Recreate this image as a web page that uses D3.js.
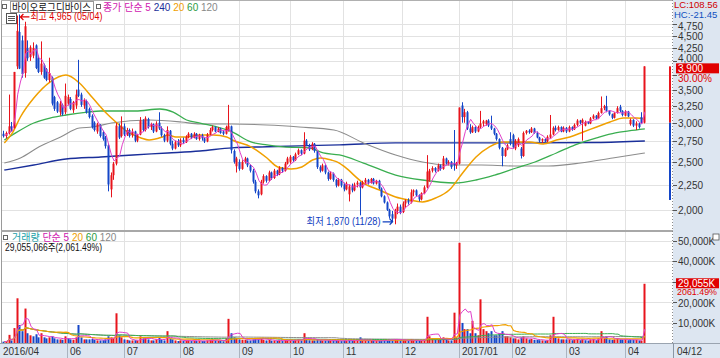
<!DOCTYPE html>
<html><head><meta charset="utf-8">
<script src="https://cdn.jsdelivr.net/npm/d3@7"></script>
<style>
body{margin:0;background:#fff;}
svg{display:block;}
text{font-family:"Liberation Sans","Noto Sans CJK KR",sans-serif;}
</style></head><body>
<svg id="c" width="720" height="358"></svg>
<script>
// ---------------- data ----------------
const stockName = "바이오로그디바이스";
const monthLabels = ["2016/04","05","06","07","08","09","10","11","12","2017/01","02","03","04"];
const monthDays   = [4,20,21,21,22,19,20,22,21,20,20,22,8];
const hiddenMonthLabels = ["05"];
const lastDateLabel = "04/12";
const priceTicks = [2000,2250,2500,2750,3000,3250,3500,3750,4000,4250,4500,4750];
const hiddenPriceLabels = [3750];
const volumeTicks = [10000,20000,30000,40000,50000]; // K shares
const hiddenVolumeLabels = [30000];
const rangeBar = [2094,3000,3900];

// daily [open, high, low, close]
const ohlc = [
// 2016/04
[2850,2890,2800,2820],[2820,2880,2790,2860],[2860,3420,2840,2950],[2950,3010,2880,2920],
// 05
[2930,3800,2920,3800],[3900,4940,3850,4600],[4575,4965,3850,3860],[4400,4500,3700,3760],[3780,4800,3700,4700],
[4250,4400,4000,4050],[4070,4300,4000,4260],[4100,4360,4050,4250],[4300,4320,3850,3870],[4050,4100,3780,3800],
[3800,4380,3750,3950],[3920,3950,3680,3700],[3850,3870,3640,3660],[3660,4060,3620,3780],[3700,3720,3250,3280],
[3380,3400,3170,3200],[3300,3320,3140,3160],[3150,3320,3100,3280],[3260,3280,3100,3120],[3150,3600,3120,3400],
// 06
[3280,3420,3250,3380],[3350,3380,3180,3200],[3180,3320,3140,3300],[3250,3500,3200,3420],[3500,4020,3380,3400],
[3420,3450,3230,3260],[3250,3360,3200,3330],[3320,3340,3130,3150],[3200,3220,3060,3080],[3100,3120,2920,2940],
[3000,3020,2880,2900],[2880,3000,2850,2980],[2960,2980,2800,2820],[2870,2890,2760,2780],[2800,2820,2660,2690],
[2700,2720,2180,2250],[2200,2380,2120,2350],[2350,2500,2300,2480],[2480,3000,2460,2960],[2950,2990,2780,2800],
[2820,3090,2800,2950],
// 07
[2950,2990,2820,2840],[2840,2930,2820,2900],[2900,2920,2800,2820],[2830,2920,2800,2880],[2880,2890,2740,2760],
[2760,2850,2740,2830],[2840,3080,2830,3030],[3030,3050,2880,2900],[2900,3090,2880,3060],[3050,3070,2920,2940],
[2940,3000,2900,2980],[2980,2990,2860,2880],[2880,3020,2870,2990],[3000,3150,2900,2920],[2920,2950,2810,2830],
[2830,2850,2740,2760],[2760,2950,2740,2900],[2890,2900,2700,2720],[2720,2760,2640,2660],[2660,2760,2650,2740],
[2740,2780,2680,2700],
// 08
[2700,2790,2680,2770],[2770,2800,2720,2740],[2740,2830,2730,2810],[2810,2870,2790,2850],[2850,2860,2780,2800],
[2800,2870,2790,2850],[2850,2860,2770,2780],[2780,2850,2760,2830],[2830,2850,2760,2790],[2790,2800,2730,2750],
[2750,2860,2740,2840],[2840,2930,2830,2900],[2900,2960,2880,2940],[2940,2950,2870,2880],[2880,2940,2870,2920],
[2920,2930,2850,2860],[2880,2900,2830,2850],[2850,2960,2840,2940],[2900,3260,2880,2960],[2950,2960,2600,2640],
[2630,2650,2480,2500],[2450,2560,2380,2540],
// 09
[2500,2530,2400,2420],[2420,2520,2410,2500],[2500,2560,2480,2540],[2540,2550,2440,2460],[2460,2470,2380,2400],
[2400,2420,2260,2280],[2280,2300,2160,2180],[2180,2200,2110,2140],[2150,2300,2140,2280],[2280,2360,2260,2340],
[2340,2350,2270,2290],[2290,2400,2280,2380],[2380,2390,2300,2320],[2320,2420,2310,2400],[2400,2410,2340,2360],
[2360,2450,2350,2430],[2430,2440,2380,2400],[2400,2500,2390,2480],[2480,2560,2470,2540],
// 10
[2500,2580,2480,2560],[2560,2570,2500,2520],[2520,2610,2510,2590],[2590,2660,2580,2640],[2640,2650,2580,2600],
[2600,2870,2590,2760],[2760,2780,2690,2700],[2700,2720,2630,2650],[2650,2740,2640,2720],[2720,2730,2610,2630],
[2630,2640,2420,2440],[2440,2460,2380,2400],[2400,2480,2390,2460],[2460,2470,2360,2380],[2380,2390,2290,2310],
[2310,2390,2300,2370],[2370,2380,2280,2300],[2300,2310,2220,2240],[2240,2320,2230,2300],[2300,2310,2220,2240],
// 11
[2250,2270,2180,2200],[2200,2280,2190,2260],[2150,2250,2080,2230],[2230,2260,2170,2190],[2190,2270,2180,2250],
[2250,2290,2220,2270],[2270,2280,1950,2220],[2220,2290,2210,2270],[2270,2320,2250,2300],[2300,2310,2250,2270],
[2270,2320,2260,2310],[2310,2320,2250,2260],[2260,2300,2250,2290],[2290,2300,2200,2210],[2210,2220,2120,2130],
[2130,2140,2060,2070],[2070,2080,1990,2000],[2000,2010,1920,1940],[1960,1990,1890,1920],[1920,2010,1870,1990],
[1990,2060,1960,2030],[2030,2050,1960,1980],
// 12
[1980,2080,1970,2060],[2060,2100,2020,2090],[2090,2110,2050,2070],[2070,2200,2060,2170],[2170,2200,2130,2190],
[2190,2200,2130,2140],[2140,2150,2080,2100],[2100,2170,2090,2160],[2160,2240,2150,2220],[2220,2580,2210,2390],
[2300,2420,2280,2400],[2400,2450,2380,2430],[2430,2440,2380,2400],[2400,2480,2390,2460],[2460,2470,2400,2420],
[2420,2570,2410,2540],[2540,2550,2470,2480],[2480,2520,2460,2500],[2500,2510,2420,2440],[2480,2900,2400,2460],
[2460,2500,2420,2480],
// 2017/01
[2480,3220,2470,3220],[3250,3300,3000,3080],[3080,3200,3000,3150],[3150,3170,2900,2920],[2920,2980,2850,2870],
[2870,2960,2860,2940],[2940,2950,2860,2880],[2880,2960,2870,2940],[2940,3170,2920,2990],[2990,3040,2950,3020],
[2980,3040,2960,3030],[3030,3050,2940,2960],[2960,3100,2900,2920],[2920,2930,2830,2850],[2850,2860,2760,2780],
[2780,2790,2650,2670],[2670,2680,2450,2570],[2570,2670,2560,2650],[2650,2720,2640,2700],[2780,2870,2700,2720],
// 02
[2830,2850,2660,2680],[2660,2780,2640,2760],[2700,2800,2680,2780],[2660,2680,2540,2570],[2570,2880,2560,2860],
[2860,2900,2840,2890],[2890,2910,2850,2870],[2870,2940,2860,2920],[2920,2930,2850,2860],[2860,2880,2790,2800],
[2800,2810,2740,2760],[2760,2790,2730,2780],[2780,2790,2740,2750],[2750,2830,2740,2810],[2800,3110,2790,2840],
[2840,2950,2830,2930],[2930,2960,2880,2900],[2900,2960,2890,2940],[2940,2950,2870,2880],[2880,2950,2870,2930],
// 03
[2930,2940,2860,2880],[2880,2960,2870,2940],[2940,2950,2890,2910],[2910,2990,2900,2970],[2970,3050,2950,3030],
[3030,3040,2980,3000],[3000,3060,2760,3040],[2960,3030,2950,3010],[3010,3020,2980,2990],[2990,3080,2980,3060],
[3060,3120,3050,3100],[3100,3110,3050,3060],[3060,3160,3050,3140],[3140,3390,3130,3210],[3210,3260,3180,3240],
[3240,3400,3150,3170],[3170,3180,3100,3120],[3120,3130,3050,3070],[3070,3150,3060,3140],[3140,3240,3130,3210],
[3230,3260,3150,3170],[3170,3180,3090,3110],
// 04
[3100,3180,3090,3160],[3160,3170,3080,3090],[2980,3060,2960,3040],[3040,3050,2940,2960],[2960,3020,2900,2990],
[2990,3000,2920,2940],[3080,3150,2980,3000],[3000,3900,2990,3900]
];

// daily volume, thousand shares
const volume = [
900,1100,4200,1500,
7500,22000,9000,6000,17000,5000,4000,3500,4500,3000,5000,3000,2500,3000,3500,2500,2000,2000,1800,3500,
2500,2000,1800,3000,9000,3000,2000,2000,2000,2200,1800,1500,1500,1600,2000,3500,3000,2500,14700,4000,3000,
2000,1800,1500,1500,1600,1400,3500,2500,3000,2000,1500,1500,2000,3000,1800,1500,6000,2500,2000,1500,1200,
1500,1200,1500,1600,1200,1400,1200,1300,1200,1200,1500,1800,2000,1500,1300,1200,1100,2500,12000,5000,3000,2500,
2000,1800,1800,1500,1500,2000,2500,2200,2500,1800,1500,1800,1400,1500,1300,1500,1200,1600,1800,
1600,1300,1700,2000,1500,5000,2000,1600,1500,1500,2200,1600,1400,1400,1500,1300,1300,1500,1300,1200,
1500,1300,2000,1400,1400,1300,3000,1500,1400,1200,1300,1200,1200,1400,1600,1700,1800,2000,1800,2200,1800,1500,
1600,1500,1200,2200,1500,1300,1300,1400,1800,13000,3500,2500,2000,2000,1800,3000,2000,1500,1500,15000,3000,
49000,10000,7000,7000,5000,11000,5000,4000,21500,7000,6000,5000,6000,4000,4000,5000,6000,3500,3500,3000,
2500,2500,2000,3000,3500,2500,2000,2200,1800,1800,1600,1500,1400,1600,4000,13000,3000,2500,2000,2000,
2000,2000,1600,1800,2200,1600,2200,1600,1400,2000,2200,1600,2500,6000,2500,3500,2000,1800,2000,2500,2000,1800,
2000,1600,1800,1800,1800,1500,1409.42,29055.066
];

// moving averages: [day index, price]
const ma20 = [[0,2731],[3,2861],[6,3081],[11,3365],[17,3625],[23,3745],[28,3610],[33,3365],[38,3138],[42,2996],[46,2874],[51,2795],[54,2768],[59,2808],[61,2834],[64,2808],[68,2808],[73,2834],[78,2834],[83,2808],[85,2768],[92,2682],[98,2546],[102,2442],[107,2419],[111,2442],[115,2522],[118,2546],[122,2522],[125,2487],[127,2442],[134,2266],[140,2193],[146,2123],[151,2094],[156,2075],[161,2114],[166,2193],[171,2374],[176,2558],[181,2682],[186,2743],[191,2743],[196,2743],[201,2718],[206,2768],[211,2808],[216,2874],[221,2941],[226,3010],[231,3066],[236,3066],[239,3050]];
const ma60 = [[0,2768],[3,2834],[11,2996],[17,3066],[23,3110],[31,3153],[36,3168],[49,3168],[58,3198],[63,3153],[68,3038],[73,2996],[85,2874],[92,2743],[98,2706],[104,2682],[114,2669],[119,2606],[125,2582],[134,2487],[146,2352],[156,2298],[168,2266],[176,2298],[183,2352],[191,2430],[198,2499],[206,2606],[213,2706],[221,2795],[228,2861],[233,2887],[239,2914]];
const ma120 = [[0,2487],[6,2546],[13,2682],[21,2808],[28,2927],[33,2941],[40,2996],[54,3038],[66,3010],[73,2982],[85,2982],[98,2968],[110,2941],[123,2900],[134,2731],[146,2582],[156,2499],[165,2464],[178,2464],[190,2453],[203,2453],[215,2487],[227,2546],[239,2606]];
const ma240 = [[0,2407],[11,2464],[23,2534],[36,2558],[48,2582],[61,2606],[73,2630],[85,2669],[98,2682],[110,2694],[125,2706],[146,2731],[171,2731],[196,2731],[221,2737],[239,2756]];

// ---------------- layout ----------------
const RED = "#e8141c", BLUE = "#1446c8";
const AXBG = "#dde6f1";
const svg = d3.select("#c");
const plotL = 2, plotR = 672;
const x = d3.scaleLinear().domain([-0.5, 249.5]).range([3, 673]);
const y = d3.scaleLog().domain([1821, 5286]).range([230, 1]);
const yv = d3.scaleLinear().domain([0, 54250]).range([343.5, 232]);

const monthStart = [];
monthDays.reduce((a, d) => { monthStart.push(a); return a + d; }, 0);

// backgrounds
svg.append("rect").attr("x",0).attr("y",0).attr("width",720).attr("height",358).attr("fill","#fff");
svg.append("rect").attr("x",673).attr("y",0).attr("width",47).attr("height",343).attr("fill",AXBG);
svg.append("rect").attr("x",0).attr("y",343).attr("width",720).attr("height",15).attr("fill",AXBG);

const defs = svg.append("defs");
defs.append("clipPath").attr("id","cp").append("rect").attr("x",plotL).attr("y",1).attr("width",plotR-plotL).attr("height",229);
defs.append("clipPath").attr("id","cv").append("rect").attr("x",plotL).attr("y",232).attr("width",plotR-plotL).attr("height",111);

// grid
const grid = svg.append("g").attr("stroke","#e2e2e2").attr("stroke-width",1).attr("shape-rendering","crispEdges");
priceTicks.forEach(t => grid.append("line").attr("x1",plotL).attr("x2",plotR).attr("y1",Math.round(y(t))+0.5).attr("y2",Math.round(y(t))+0.5));
volumeTicks.forEach(t => grid.append("line").attr("x1",plotL).attr("x2",plotR).attr("y1",Math.round(yv(t))+0.5).attr("y2",Math.round(yv(t))+0.5));
monthLabels.forEach((m, i) => {
  if (i === 0 || hiddenMonthLabels.includes(m)) return;
  const xx = Math.round(x(monthStart[i] - 0.5)) + 0.5;
  grid.append("line").attr("x1",xx).attr("x2",xx).attr("y1",1).attr("y2",343);
  svg.append("line").attr("x1",xx).attr("x2",xx).attr("y1",343).attr("y2",358).attr("stroke","#aab4c0").attr("shape-rendering","crispEdges");
});

// frame
const fr = svg.append("g").attr("shape-rendering","crispEdges");
fr.append("line").attr("x1",1.5).attr("x2",1.5).attr("y1",0).attr("y2",343).attr("stroke","#9a9a9a");
fr.append("line").attr("x1",1).attr("x2",673).attr("y1",0.5).attr("y2",0.5).attr("stroke","#b0b0b0");
fr.append("rect").attr("x",1).attr("y",230).attr("width",672).attr("height",2).attr("fill","#a8a8a8");
fr.append("line").attr("x1",0).attr("x2",720).attr("y1",343.5).attr("y2",343.5).attr("stroke","#9aa4b0");
fr.append("line").attr("x1",672.5).attr("x2",672.5).attr("y1",0).attr("y2",343).attr("stroke","#8a8a8a").attr("stroke-dasharray","1,2");
fr.append("line").attr("x1",673.5).attr("x2",673.5).attr("y1",343).attr("y2",358).attr("stroke","#8a96a4");

// ---------- price panel ----------
const gp = svg.append("g").attr("clip-path","url(#cp)");
const lineFromPts = (sc) => d3.line().x(d => x(d[0])).y(d => sc(d[1])).curve(d3.curveMonotoneX);
const closes = ohlc.map(d => d[3]);
const movAvg = (arr, n) => arr.map((v, i) => { const s = arr.slice(Math.max(0, i - n + 1), i + 1); return [i, d3.mean(s)]; });
const ma5 = movAvg(closes, 5);

gp.append("path").attr("d", lineFromPts(y)(ma240)).attr("fill","none").attr("stroke","#1a2f9a").attr("stroke-width",1.4);
gp.append("path").attr("d", lineFromPts(y)(ma120)).attr("fill","none").attr("stroke","#8c8c8c").attr("stroke-width",1.1);
gp.append("path").attr("d", lineFromPts(y)(ma60)).attr("fill","none").attr("stroke","#3aae50").attr("stroke-width",1.3);
gp.append("path").attr("d", lineFromPts(y)(ma20)).attr("fill","none").attr("stroke","#f0a000").attr("stroke-width",1.5);

const cg = gp.append("g");
ohlc.forEach((d, i) => {
  const [o, h, l, c] = d;
  const col = c >= o ? RED : BLUE;
  const cx = Math.round(x(i));
  cg.append("rect").attr("x", cx - 1).attr("width", 1).attr("y", y(h)).attr("height", Math.max(1, y(l) - y(h))).attr("fill", col);
  const top = y(Math.max(o, c)), bot = y(Math.min(o, c));
  cg.append("rect").attr("x", cx - 1.5).attr("width", 2).attr("y", top).attr("height", Math.max(1, bot - top)).attr("fill", col);
});
gp.append("path").attr("d", d3.line().x(d => x(d[0])).y(d => y(d[1]))(ma5)).attr("fill","none").attr("stroke","#e040c8").attr("stroke-width",1);

const rbx = 670;
svg.append("rect").attr("x", rbx - 1).attr("width", 2).attr("y", y(rangeBar[2])).attr("height", y(rangeBar[1]) - y(rangeBar[2])).attr("fill", RED);
svg.append("rect").attr("x", rbx - 1).attr("width", 2).attr("y", y(rangeBar[1])).attr("height", y(rangeBar[0]) - y(rangeBar[1])).attr("fill", BLUE);

// ---------- volume panel ----------
const gv = svg.append("g").attr("clip-path","url(#cv)");
volume.forEach((v, i) => {
  const up = i === 0 ? ohlc[i][3] >= ohlc[i][0] : ohlc[i][3] >= ohlc[i-1][3];
  const cx = Math.round(x(i));
  gv.append("rect").attr("x", cx - 1.5).attr("width", 2).attr("y", yv(v)).attr("height", yv(0) - yv(v)).attr("fill", up ? RED : BLUE);
});
const vline = d3.line().x(d => x(d[0])).y(d => yv(d[1]));
gv.append("path").attr("d", vline(movAvg(volume,120))).attr("fill","none").attr("stroke","#8c8c8c").attr("stroke-width",1);
gv.append("path").attr("d", vline(movAvg(volume,60))).attr("fill","none").attr("stroke","#3aae50").attr("stroke-width",1);
gv.append("path").attr("d", vline(movAvg(volume,20))).attr("fill","none").attr("stroke","#f0a000").attr("stroke-width",1.2);
gv.append("path").attr("d", vline(movAvg(volume,5))).attr("fill","none").attr("stroke","#e040c8").attr("stroke-width",1);

// ---------- right axes ----------
const ax = svg.append("g").attr("font-size", 10).attr("fill", "#333");
const fmt = d3.format(",");
priceTicks.forEach(t => {
  const yy = Math.round(y(t)) + 0.5;
  ax.append("line").attr("x1",673).attr("x2",677).attr("y1",yy).attr("y2",yy).attr("stroke","#555");
  if (hiddenPriceLabels.includes(t)) return;
  const off = t === 4000 ? -3.5 : (t === 4750 ? 1.5 : 0);
  ax.append("text").attr("x",678).attr("y",yy + off).attr("dy","0.35em").text(fmt(t));
});
volumeTicks.forEach(t => {
  const yy = Math.round(yv(t)) + 0.5;
  ax.append("line").attr("x1",673).attr("x2",677).attr("y1",yy).attr("y2",yy).attr("stroke","#555");
  if (hiddenVolumeLabels.includes(t)) return;
  ax.append("text").attr("x",678).attr("y",yy + (t === 20000 ? 1 : 0)).attr("dy","0.35em").text(fmt(t) + "K");
});

// current price box and change
const last = ohlc[ohlc.length - 1], prev = ohlc[ohlc.length - 2];
const chg = (last[3] - prev[3]) / prev[3] * 100;
const yl = y(last[3]);
svg.append("rect").attr("x",676).attr("y",yl-3).attr("width",43).attr("height",10).attr("fill","#e00000");
svg.append("text").attr("x",678).attr("y",yl+2).attr("dy","0.35em").attr("font-size",10).attr("fill","#fff").text(fmt(last[3]));
svg.append("text").attr("x",678).attr("y",yl+12).attr("dy","0.35em").attr("font-size",10).attr("fill","#e00000").text(chg.toFixed(2) + "%");

// LC / HC
const minLow = d3.min(ohlc, d => d[2]), maxHigh = d3.max(ohlc, d => d[1]);
svg.append("text").attr("x",674).attr("y",5).attr("dy","0.35em").attr("font-size",9.5).attr("fill","#d00000").text("LC:" + ((last[3]-minLow)/minLow*100).toFixed(2));
svg.append("text").attr("x",674).attr("y",15).attr("dy","0.35em").attr("font-size",9.5).attr("fill","#1050c0").text("HC:" + ((last[3]-maxHigh)/maxHigh*100).toFixed(2));

// volume box
const lv = volume[volume.length - 1], pv = volume[volume.length - 2];
const yvl = yv(lv);
svg.append("rect").attr("x",676).attr("y",yvl-5.5).attr("width",43).attr("height",10).attr("fill","#e00000");
svg.append("text").attr("x",678).attr("y",yvl-0.5).attr("dy","0.35em").attr("font-size",10).attr("fill","#fff").text(fmt(Math.round(lv)) + "K");
svg.append("text").attr("x",677).attr("y",yvl+8.5).attr("dy","0.35em").attr("font-size",9).attr("fill","#e00000")
  .attr("textLength",40).attr("lengthAdjust","spacingAndGlyphs").text((lv/pv*100).toFixed(2) + "%");
svg.append("rect").attr("x",713).attr("y",234).attr("width",6).attr("height",6).attr("fill","#fff").attr("stroke","#555").attr("stroke-width",0.8);

// ---------- x axis labels ----------
const xl = svg.append("g").attr("font-size",10).attr("fill","#333");
monthLabels.forEach((m, i) => {
  if (hiddenMonthLabels.includes(m)) return;
  const xx = i === 0 ? 3 : Math.round(x(monthStart[i] - 0.5)) + 3;
  xl.append("text").attr("x", xx).attr("y", 351).attr("dy","0.35em").text(m);
});
xl.append("text").attr("x",677).attr("y",351).attr("dy","0.35em").text(lastDateLabel);

// ---------- legends ----------
svg.append("rect").attr("x",2.5).attr("y",4.5).attr("width",4).attr("height",4).attr("fill","#fff").attr("stroke","#666");
svg.append("rect").attr("x",10.5).attr("y",1.5).attr("width",83).attr("height",11).attr("fill","#fff").attr("stroke","#999");
svg.append("text").attr("x",12).attr("y",7.5).attr("dy","0.35em").attr("font-size",10).attr("fill","#111")
  .attr("textLength",79).attr("lengthAdjust","spacingAndGlyphs").text(stockName);
svg.append("rect").attr("x",96.5).attr("y",4.5).attr("width",4).attr("height",4).attr("fill","#fff").attr("stroke","#666");
const lg = svg.append("text").attr("x",103).attr("y",7.5).attr("dy","0.35em").attr("font-size",10);
lg.append("tspan").attr("fill","#d020b0").text("종가 단순 5 ");
lg.append("tspan").attr("fill","#1a2f9a").text("240 ");
lg.append("tspan").attr("fill","#f0a000").text("20 ");
lg.append("tspan").attr("fill","#2a9a40").text("60 ");
lg.append("tspan").attr("fill","#888").text("120");

svg.append("rect").attr("x",3.5).attr("y",235.5).attr("width",4).attr("height",4).attr("fill","#fff").attr("stroke","#666");
const lg2 = svg.append("text").attr("x",12).attr("y",237.5).attr("dy","0.35em").attr("font-size",10);
lg2.append("tspan").attr("fill","#20a0a8").text("거래량 ");
lg2.append("tspan").attr("fill","#d020b0").text("단순 5 ");
lg2.append("tspan").attr("fill","#f0a000").text("20 ");
lg2.append("tspan").attr("fill","#2a9a40").text("60 ");
lg2.append("tspan").attr("fill","#888").text("120");
svg.append("text").attr("x",5).attr("y",247.5).attr("dy","0.35em").attr("font-size",10).attr("fill","#111")
  .attr("textLength",97).attr("lengthAdjust","spacingAndGlyphs")
  .text(fmt(Math.round(lv*1000)) + "주(" + d3.format(",.2f")(lv/pv*100) + "%)");

// ---------- annotations ----------
const hiIdx = d3.maxIndex(ohlc, d => d[1]);
const loIdx = d3.minIndex(ohlc, d => d[2]);
const hx = x(hiIdx) - 1, hy = y(maxHigh) + 2.5;
svg.append("rect").attr("x",6.5).attr("y",13.5).attr("width",10).attr("height",10).attr("fill","#fff").attr("stroke","#555");
[16.5,18.5,20.5].forEach(yy => svg.append("line").attr("x1",8).attr("x2",15).attr("y1",yy).attr("y2",yy).attr("stroke","#555"));
svg.append("path").attr("d",`M${hx+10},${hy}H${hx+1}M${hx+4},${hy-3}L${hx+1},${hy}L${hx+4},${hy+3}`).attr("stroke","#e00000").attr("fill","none").attr("stroke-width",1.2);
svg.append("text").attr("x",hx+11).attr("y",hy).attr("dy","0.35em").attr("font-size",10).attr("fill","#e00000")
  .attr("textLength",72).attr("lengthAdjust","spacingAndGlyphs").text("최고 " + fmt(maxHigh) + " (05/04)");
const lx = x(loIdx) - 3, ly = y(minLow) - 2.5;
svg.append("path").attr("d",`M${lx-10},${ly}H${lx}M${lx-3},${ly-3}L${lx},${ly}L${lx-3},${ly+3}`).attr("stroke","#1040c0").attr("fill","none").attr("stroke-width",1.2);
svg.append("text").attr("x",lx-12).attr("y",ly).attr("dy","0.35em").attr("text-anchor","end").attr("font-size",10).attr("fill","#1040c0")
  .attr("textLength",74).attr("lengthAdjust","spacingAndGlyphs").text("최저 " + fmt(minLow) + " (11/28)");
</script></body></html>
